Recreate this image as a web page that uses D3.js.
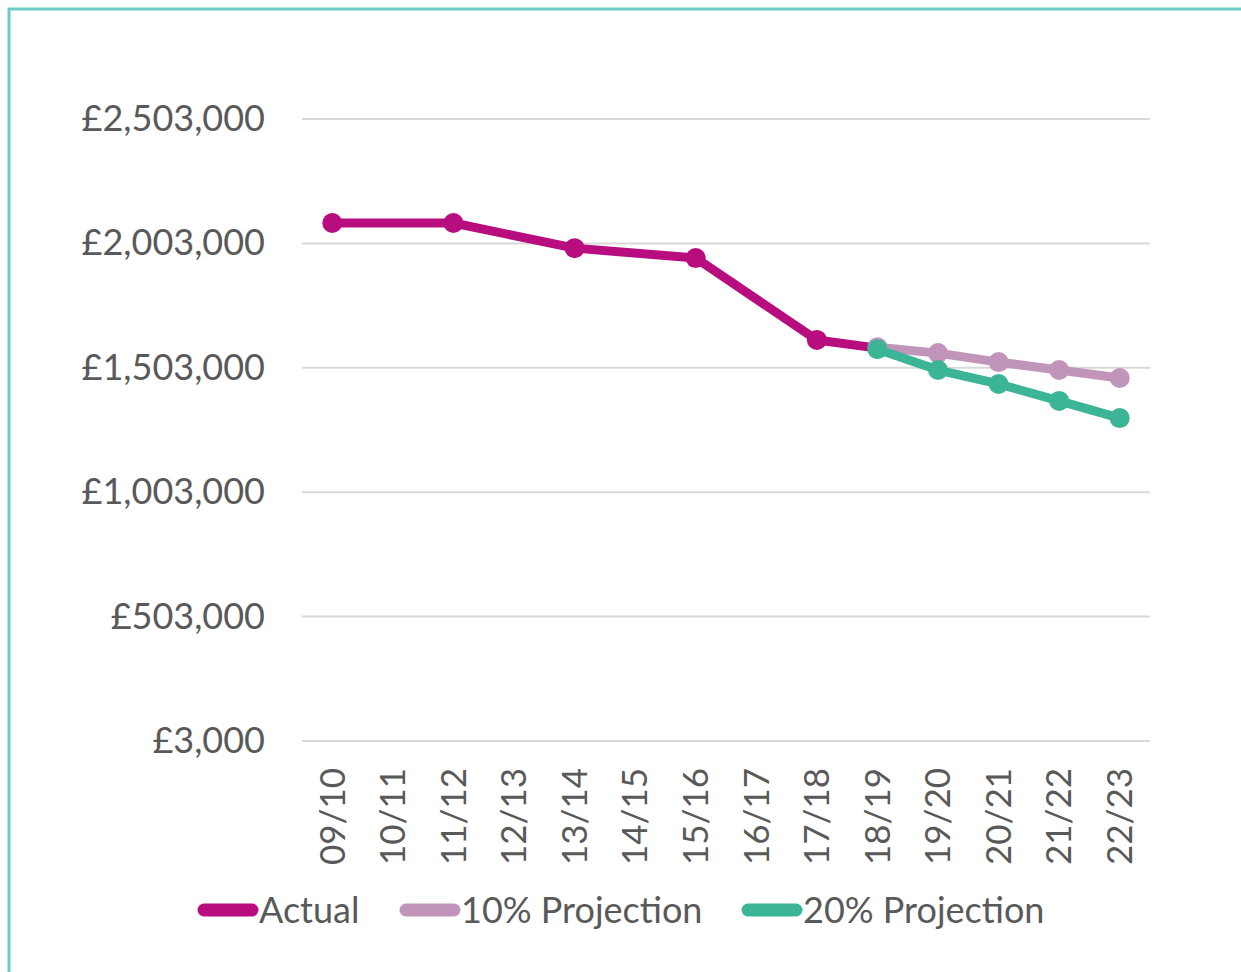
<!DOCTYPE html>
<html>
<head>
<meta charset="utf-8">
<script src="https://cdn.jsdelivr.net/npm/d3@7"></script>
<style>
  body { margin: 0; background: #fff; }
  svg { font-family: Lato, "Open Sans", sans-serif; }
</style>
</head>
<body>
<svg id="chart"></svg>
<script>
const years = ["09/10", "10/11", "11/12", "12/13", "13/14", "14/15", "15/16",
               "16/17", "17/18", "18/19", "19/20", "20/21", "21/22", "22/23"];
const actual = [2085000, null, 2085000, null, 1984000, null, 1944000,
                null, 1615000, 1582000, null, null, null, null];
const proj10 = [null, null, null, null, null, null, null,
                null, null, 1586000, 1562000, 1526000, 1494000, 1462000];
const proj20 = [null, null, null, null, null, null, null,
                null, null, 1578000, 1494000, 1438000, 1370000, 1301000];
const yTicks = [3000, 503000, 1003000, 1503000, 2003000, 2503000];

const seriesNames = ["Actual", "10% Projection", "20% Projection"];
const seriesColors = ["#b80d7f", "#c095b9", "#3bb596"];

const width = 1241, height = 972;
const margin = { top: 119, right: 91, bottom: 231, left: 302 };

const svg = d3.select("#chart").attr("width", width).attr("height", height);

// frame
svg.append("path")
    .attr("d", `M9,${height} V9 H${width}`)
    .attr("fill", "none")
    .attr("stroke", "#6ccbc4")
    .attr("stroke-width", 3);

const xScale = d3.scaleBand().domain(years)
    .range([margin.left, width - margin.right]);
const yScale = d3.scaleLinear().domain([3000, 2503000])
    .range([height - margin.bottom, margin.top]);

// grid lines
svg.append("g").selectAll("line")
    .data(yTicks)
    .join("line")
    .attr("x1", margin.left).attr("x2", width - margin.right)
    .attr("y1", d => yScale(d)).attr("y2", d => yScale(d))
    .attr("stroke", "#d9d9d9").attr("stroke-width", 2);

// y axis labels
const fmt = d3.format(",");
const yAxis = svg.append("g")
    .attr("transform", `translate(${margin.left}, 0)`)
    .call(d3.axisLeft(yScale).tickValues(yTicks).tickSize(0).tickPadding(37)
        .tickFormat(d => "£" + fmt(d)));
yAxis.select(".domain").remove();
yAxis.selectAll("text").attr("font-size", 36).attr("fill", "#595959")
    .attr("font-family", "Lato, sans-serif");

// x axis labels
const xAxis = svg.append("g")
    .attr("transform", `translate(0, ${height - margin.bottom})`)
    .call(d3.axisBottom(xScale).tickSize(0));
xAxis.select(".domain").remove();
xAxis.selectAll("text")
    .attr("font-size", 35).attr("fill", "#595959")
    .attr("font-family", "Lato, sans-serif")
    .attr("transform", "rotate(-90)")
    .attr("text-anchor", "end")
    .attr("dy", "0.35em")
    .attr("x", -27).attr("y", 0);

const allSeries = [actual, proj10, proj20];
const line = d3.line()
    .defined(d => d.v != null)
    .x(d => xScale(d.k) + xScale.bandwidth() / 2)
    .y(d => yScale(d.v));

allSeries.forEach((vals, i) => {
    const pts = years.map((k, j) => ({ k: k, v: vals[j] })).filter(d => d.v != null);
    const g = svg.append("g");
    g.append("path")
        .datum(pts)
        .attr("d", line)
        .attr("fill", "none")
        .attr("stroke", seriesColors[i])
        .attr("stroke-width", 9)
        .attr("stroke-linejoin", "round");
    g.selectAll("circle")
        .data(pts)
        .join("circle")
        .attr("cx", d => xScale(d.k) + xScale.bandwidth() / 2)
        .attr("cy", d => yScale(d.v))
        .attr("r", 10)
        .attr("fill", seriesColors[i]);
});

// legend
const legendX = [198, 400, 742];
const legend = svg.append("g").attr("transform", "translate(0, 910)");
seriesNames.forEach((name, i) => {
    legend.append("line")
        .attr("x1", legendX[i] + 6).attr("x2", legendX[i] + 54)
        .attr("y1", 0).attr("y2", 0)
        .attr("stroke", seriesColors[i])
        .attr("stroke-width", 13)
        .attr("stroke-linecap", "round");
    legend.append("text")
        .attr("x", legendX[i] + 61).attr("y", 0)
        .attr("dy", "0.35em")
        .attr("font-size", 36)
        .attr("fill", "#595959")
        .text(name);
});
</script>
</body>
</html>
